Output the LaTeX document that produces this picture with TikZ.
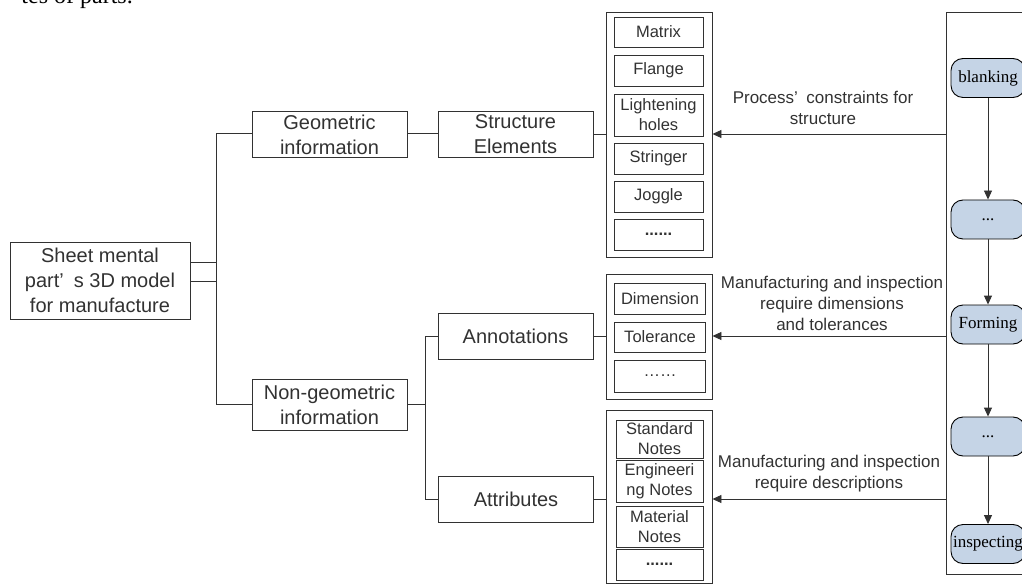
\documentclass[tikz,border=0pt]{standalone}
\usepackage{fontspec}
\setmainfont{Liberation Sans}
\newfontfamily\procfont{Liberation Serif}
\usepackage{tikz}
\usetikzlibrary{arrows.meta}
\usetikzlibrary{positioning,calc}
\definecolor{stepblue}{RGB}{197,212,230}
\definecolor{ink}{RGB}{50,50,50}
\tikzset{
    bigbox/.style={
        draw=ink,
        text=ink,
        align=center,
        inner sep=1pt,
        minimum width=155pt,
        minimum height=46pt,
        font=\fontsize{20}{25}\selectfont,
        line width=0.9pt
    },
    itembox/.style={
        draw=ink,
        text=ink,
        align=center,
        inner sep=1pt,
        minimum width=89pt,
        font=\fontsize{16.5}{20}\selectfont,
        line width=0.9pt
    },
    holder/.style={draw=ink, minimum width=106pt, line width=0.9pt},
    procstep/.style={
        draw,
        rounded corners=12pt,
        fill=stepblue,
        minimum width=74pt,
        minimum height=39pt,
        inner sep=1pt,
        font=\procfont\fontsize{17}{20}\selectfont,
        line width=0.9pt
    },
    note/.style={align=center, text=ink, inner sep=0pt, font=\fontsize{17}{21}\selectfont},
    link/.style={draw=ink, line width=0.9pt},
    flow/.style={draw=ink, line width=0.9pt, -{Triangle[length=9pt, width=8pt]}}
}

\begin{document}
\begin{tikzpicture}[x=1pt, y=-1pt]
  \useasboundingbox (0,0) rectangle (1022,585);

  % cut caption line of the page
  \node[anchor=base east, inner sep=0pt, font=\procfont\fontsize{24}{28}\selectfont] (caption) at (133,4) {tes of parts.};

  % tree of the model
  \node[bigbox, minimum width=180pt, minimum height=77pt] (root) at (100,280.5) {Sheet mental\\part’\enspace s 3D model\\for manufacture};
  \node[bigbox] (geo) at (329.5,134.5) {Geometric\\information};
  \node[bigbox, minimum height=51pt] (nongeo) at (329.5,404.5) {Non-geometric\\information};
  \node[bigbox] (struct) at (515.5,134) {Structure\\Elements};
  \node[bigbox] (annot) at (515.5,336) {Annotations};
  \node[bigbox] (attr) at (516,499) {Attributes};

  \coordinate (ja) at (216,133);
  \coordinate (jb) at (216,404);
  \coordinate (jr1) at (216,262);
  \coordinate (jr2) at (216,281);
  \coordinate (jc) at (425,336);
  \coordinate (jd) at (425,499);

  \draw[link] (root.east |- jr1) -- (jr1);
  \draw[link] (root.east |- jr2) -- (jr2);
  \draw[link] (geo.west |- ja) -- (ja) -- (jb) -- (nongeo.west |- jb);
  \draw[link] (geo.east |- ja) -- (struct.west |- ja);
  \draw[link] (nongeo.east) -- (nongeo.east -| jc);
  \draw[link] (annot.west) -- (jc) -- (jd) -- (attr.west);

  % structure elements
  \node[holder, minimum height=245pt] (strset) at (659,134.5) {};
  \node[itembox, minimum height=30pt] (matrix) at (658.5,32) {Matrix};
  \node[itembox, minimum height=31pt] (flange) at (658.5,70.5) {Flange};
  \node[itembox, minimum height=42pt] (holes) at (658.5,115) {Lightening\\holes};
  \node[itembox, minimum height=31pt] (stringer) at (658.5,158.5) {Stringer};
  \node[itembox, minimum height=31pt] (joggle) at (658.5,196.5) {Joggle};
  \node[itembox, minimum height=31pt] (strmore) at (658.5,234.5) {\bfseries ......};

  % annotations
  \node[holder, minimum height=125pt] (annset) at (659,336.5) {};
  \node[itembox, minimum width=91pt, minimum height=31pt] (dimension) at (660,298.5) {Dimension};
  \node[itembox, minimum width=91pt, minimum height=30pt] (tolerance) at (660,337) {Tolerance};
  \node[itembox, minimum width=91pt, minimum height=32pt] (annmore) at (660,376) {……};

  % attributes
  \node[holder, minimum height=173pt] (attset) at (659,496.5) {};
  \node[itembox, minimum width=87pt, minimum height=38pt] (stdnotes) at (659.5,439) {Standard\\Notes};
  \node[itembox, minimum width=87pt, minimum height=42pt] (engnotes) at (659.5,481) {Engineeri\\ng Notes};
  \node[itembox, minimum width=87pt, minimum height=41pt] (matnotes) at (659.5,526.5) {Material\\Notes};
  \node[itembox, minimum width=87pt, minimum height=31pt] (attmore) at (659.5,564.5) {\bfseries ......};

  \draw[link] (struct.east) -- (strset.west |- struct.east);
  \draw[link] (annot.east) -- (annset.west |- annot.east);
  \draw[link] (attr.east) -- (attset.west |- attr.east);

  % process chain
  \node[holder, minimum width=104pt, minimum height=562pt] (lane) at (998,293) {};
  \node[procstep] (blanking) at (988,78) {blanking};
  \node[procstep] (step1) at (988,219.5) {...};
  \node[procstep] (forming) at (988,324.5) {Forming};
  \node[procstep] (step2) at (988,436.5) {...};
  \node[procstep] (inspecting) at (988,544) {inspecting};

  \draw[flow] (blanking) -- (step1);
  \draw[flow] (step1) -- (forming);
  \draw[flow] (forming) -- (step2);
  \draw[flow] (step2) -- (inspecting);

  % constraints from the process
  \coordinate (ca) at (lane.west |- 0,134);
  \coordinate (cb) at (lane.west |- 0,336);
  \coordinate (cc) at (lane.west |- 0,499);
  \draw[flow] (ca) -- (strset.east |- ca);
  \draw[flow] (cb) -- (annset.east |- cb);
  \draw[flow] (cc) -- (attset.east |- cc);

  \node[note] (needa) at (823,107.5) {Process’\enspace constraints for\\structure};
  \node[note] (needb) at (832,303.5) {Manufacturing and inspection\\require dimensions\\and tolerances};
  \node[note] (needc) at (829,473.5) {Manufacturing and inspection\\require descriptions};
\end{tikzpicture}
\end{document}
